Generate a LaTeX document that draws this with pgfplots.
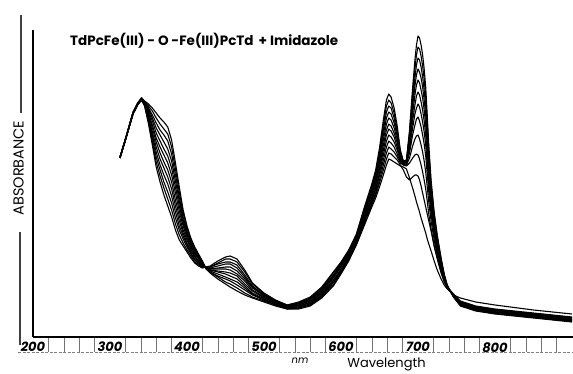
\documentclass[border=0pt]{standalone}
\usepackage{fontspec}
\setmainfont{Poppins}
\usepackage{pgfplots}
\pgfplotsset{compat=1.18}
\usepackage{pgfplotstable}

% Absorbance in arbitrary units (chart has no absorbance scale)
\pgfplotstableread{
l c0 c1 c2 c3 c4 c5 c6 c7 c8 c9 c10 c11
313 179 179 179 179 179 179 180 180 180 180 180 180
320 197 197 197 197 197 197 197 197 198 198 198 198
330 223 223 224 224 224 224 224 224 224 225 225 225
336 232 232 233 233 233 233 233 233 233 234 234 234
341 237 237 237 238 238 238 238 238 239 239 239 239
345 231 231 232 232 233 233 234 234 234 235 235 236
350 213 215 217 218 220 222 224 226 228 229 231 233
355 192 195 199 202 205 209 212 216 219 222 226 229
360 170 175 180 185 190 195 199 204 209 214 219 224
365 155 161 167 172 178 184 190 196 202 207 213 219
370 142 149 155 162 169 175 182 188 195 202 208 215
375 131 138 145 153 160 167 174 181 188 196 203 210
380 120 127 134 141 148 155 162 169 176 183 190 197
385 107 113 119 125 131 137 144 150 156 162 168 174
390 97 102 107 111 116 121 126 131 136 140 145 150
395 91 94 98 101 104 107 111 114 117 120 124 127
400 85 87 90 92 94 97 99 102 104 106 109 111
405 79 81 83 84 86 88 90 92 94 95 97 99
410 74 75 77 78 80 81 83 84 86 87 89 90
415 71 72 73 74 75 76 78 79 80 81 82 83
420 69 70 70 71 72 72 73 73 74 75 75 76
425 70 70 70 69 69 69 69 69 69 68 68 68
430 71 70 70 69 68 68 67 67 66 65 65 64
440 76 74 73 71 69 68 66 65 63 61 60 58
450 80 78 75 73 70 68 65 63 60 58 55 53
456 81 78 75 73 70 67 64 61 58 56 53 50
465 78 75 72 69 66 63 61 58 55 52 49 46
475 67 65 62 60 58 56 53 51 49 47 44 42
485 54 53 51 50 49 47 46 44 43 42 40 39
500 44 43 42 42 41 40 39 38 37 37 36 35
515 37 36 36 35 35 34 34 33 33 32 32 31
530 32 32 31 31 31 30 30 30 29 29 28 28
545 35 34 34 33 32 32 31 31 30 29 29 28
560 40 39 38 38 37 36 35 34 33 33 32 31
575 50 49 48 47 46 45 44 43 42 41 40 39
590 65 64 62 61 60 59 57 56 55 54 52 51
600 75 74 73 72 71 70 68 67 66 65 64 63
610 87 86 85 84 83 82 81 80 79 78 77 76
620 103 102 101 100 99 98 97 96 95 94 93 92
630 129 127 126 124 122 121 119 118 116 114 113 111
640 153 151 149 147 145 143 140 138 136 134 132 130
645 167 164 162 159 157 154 152 149 147 144 142 139
650 189 185 182 178 175 171 168 164 161 157 154 150
655 217 212 207 202 197 192 187 182 177 172 167 162
659 237 231 225 219 213 207 202 196 190 184 178 172
662 243 237 231 225 219 213 208 202 196 190 184 178
665 240 234 229 223 217 211 206 200 194 188 183 177
669 229 224 219 214 209 204 200 195 190 185 180 175
673 211 207 204 201 197 194 190 187 183 180 177 173
677 187 186 184 183 181 180 178 177 175 174 172 171
681 176 175 175 175 174 174 173 173 172 172 167 170
685 177 176 176 175 175 174 173 173 172 171 160 168
689 207 204 201 198 195 191 188 184 179 174 157 159
693 249 243 236 230 223 216 209 202 191 179 160 149
696 277 268 259 251 242 232 223 212 198 182 162 141
698 292 282 272 262 252 241 229 218 201 183 162 135
700 301 290 279 268 257 245 233 220 202 182 161 130
702 299 288 277 265 254 242 230 216 198 178 157 125
704 292 281 270 259 247 235 223 210 192 172 151 119
706 282 271 260 250 239 227 215 202 185 165 144 114
708 268 258 247 237 227 216 205 193 176 157 137 109
710 250 241 231 222 212 202 192 181 165 148 130 104
712 222 214 206 198 190 181 173 163 150 136 123 98
714 192 186 179 173 167 160 153 145 135 123 116 93
717 157 152 148 143 139 134 129 123 116 108 106 86
721 125 122 119 115 112 109 105 102 97 91 91 76
725 102 100 97 95 93 91 88 85 82 78 79 67
730 79 78 76 75 74 72 71 69 67 64 65 58
734 63 62 62 61 60 59 59 58 57 55 56 52
738 52 51 51 51 50 50 50 49 49 49 50 48
746 40 40 41 41 41 41 42 42 42 43 43 42
755 31 31.5 32 32.5 33 33.5 34 34.5 35 35.5 36 39
775 26 26.5 27 27.5 28 28.5 29 29.5 30 30.5 31 35
800 23 23.5 24 24.5 25 25.5 26 26.5 27 27.5 28 32
850 19 19.5 20 20.5 21 21.5 22 22.5 23 23.5 24 27
900 15 15.5 16 16.5 17 17.5 18 18.5 19 19.5 20 23
}\spectra

\begin{document}
\begin{tikzpicture}[x=1pt,y=1pt]
\path[use as bounding box] (-33,-36) rectangle (540,337);
\begin{axis}[
  at={(0,0)}, anchor=south west,
  scale only axis, width=540pt, height=307pt,
  xmin=200, xmax=901.3, ymin=0, ymax=307,
  axis x line*=bottom, axis y line*=left,
  axis line style={black, line width=1.1pt, -},
  xtick={200,300,400,500,600,700,800},
  xticklabels={200,300,400,500,600,700,800},
  minor xtick={220,240,260,280,320,340,360,380,420,440,460,480,520,540,560,580,620,640,660,680,720,740,760,780,820,840,860,880},
  tick align=outside,
  major tick length=0pt,
  minor tick length=15pt,
  minor tick style={black!55, line width=0.45pt},
  xticklabel style={font=\bfseries\itshape\fontsize{13}{13}\selectfont, anchor=north, inner sep=0pt, yshift=-5pt},
  ytick=\empty,
  clip=false,
]
\pgfplotsinvokeforeach{0,...,11}{
  \addplot[black, line width=1.1pt, no marks, line join=round] table[x=l, y=c#1] {\spectra};
}
\end{axis}
\node[anchor=base west, inner sep=0pt, font=\bfseries\fontsize{13.5}{13.5}\selectfont] at (37,291) {TdPcFe(III) - O -Fe(III)PcTd \,+ Imidazole};
\node[rotate=90, inner sep=0pt, font=\fontsize{14.5}{14.5}\selectfont] at (-14.5,169) {ABSORBANCE};
\draw[black!75, line width=1.1pt] (-12,322) -- (-12,224);
\draw[black!75, line width=1.1pt] (-13,105) -- (-13,-8);
\draw[black!50, line width=0.5pt, dash pattern=on 3pt off 1.5pt] (-15,-15) -- (540,-15);
\node[inner sep=0pt, font=\itshape\fontsize{10}{10}\selectfont] at (267,-23.5) {nm};
\node[inner sep=0pt, font=\fontsize{13}{13}\selectfont] at (353.5,-27.5) {Wavelength};
\end{tikzpicture}
\end{document}
